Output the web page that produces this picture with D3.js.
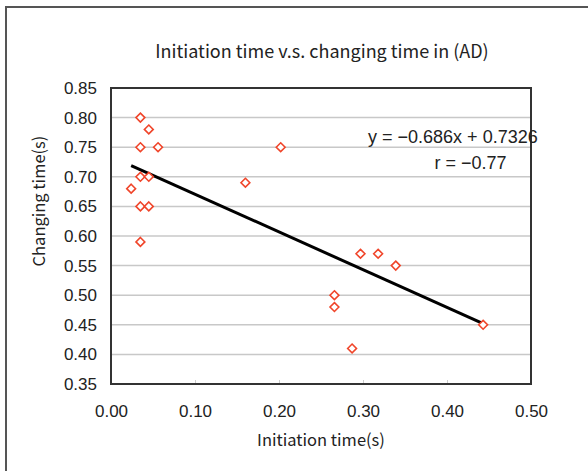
<!DOCTYPE html>
<html>
<head>
<meta charset="utf-8">
<script src="https://cdn.jsdelivr.net/npm/d3@7"></script>
<style>
  body { margin: 0; background: #fff; }
  svg { display: block; }
</style>
</head>
<body>
<div class="chart"></div>
<script>
// initiation time (s) and changing time (s)
var initTime = [0.035, 0.045, 0.035, 0.056, 0.202, 0.035, 0.045, 0.024, 0.160, 0.035,
                0.045, 0.035, 0.297, 0.318, 0.339, 0.266, 0.266, 0.287, 0.443];
var changeTime = [0.80, 0.78, 0.75, 0.75, 0.75, 0.70, 0.70, 0.68, 0.69, 0.65,
                  0.65, 0.59, 0.57, 0.57, 0.55, 0.50, 0.48, 0.41, 0.45];
// trend line end points as drawn
var trendX = [0.024, 0.443];
var trendY = [0.719, 0.452];
var xTicks = [0, 0.1, 0.2, 0.3, 0.4, 0.5];
var yTicks = [0.35, 0.40, 0.45, 0.50, 0.55, 0.60, 0.65, 0.70, 0.75, 0.80, 0.85];

var W = 588, H = 471;
var margin = { top: 88, right: 57, bottom: 87, left: 111 },
    width = W - margin.left - margin.right,
    height = H - margin.top - margin.bottom;

var svg = d3.select(".chart")
    .append("svg")
    .attr("width", W)
    .attr("height", H);

// outer chart frame (runs off right/bottom edge)
svg.append("rect")
    .attr("x", 6).attr("y", 7)
    .attr("width", W + 10).attr("height", H + 10)
    .attr("fill", "none")
    .attr("stroke", "#555")
    .attr("stroke-width", 2);

var g = svg.append("g")
    .attr("transform", "translate(" + margin.left + "," + margin.top + ")");

var x = d3.scaleLinear().domain([0, 0.5]).range([0, width]);
var y = d3.scaleLinear().domain([0.35, 0.85]).range([height, 0]);

var sans = "Liberation Sans, Arial, sans-serif";
var jp = "Noto Sans CJK JP, sans-serif";

// grid lines
g.selectAll("line.grid")
    .data(yTicks.slice(1, -1))
    .enter()
    .append("line")
    .attr("class", "grid")
    .attr("x1", 0).attr("x2", width)
    .attr("y1", function (d) { return y(d); })
    .attr("y2", function (d) { return y(d); })
    .attr("stroke", "#c8c8c8")
    .attr("stroke-width", 1.5);

// x axis
var xAxis = g.append("g")
    .attr("transform", "translate(0," + height + ")")
    .call(d3.axisBottom(x).tickValues(xTicks).tickFormat(d3.format(".2f"))
        .tickSizeInner(-4).tickSizeOuter(0).tickPadding(21));
xAxis.select(".domain").remove();
xAxis.selectAll("line").attr("stroke", "#ccc");
xAxis.selectAll("text")
    .attr("font-family", sans)
    .attr("font-size", 17)
    .attr("fill", "#222");

// y axis
var yAxis = g.append("g")
    .call(d3.axisLeft(y).tickValues(yTicks).tickFormat(d3.format(".2f"))
        .tickSize(0).tickPadding(14));
yAxis.select(".domain").remove();
yAxis.selectAll("text")
    .attr("font-family", sans)
    .attr("font-size", 17)
    .attr("fill", "#222");

// plot area border
g.append("rect")
    .attr("width", width).attr("height", height)
    .attr("fill", "none")
    .attr("stroke", "#333")
    .attr("stroke-width", 2);

// trend line
g.append("line")
    .attr("x1", x(trendX[0])).attr("y1", y(trendY[0]))
    .attr("x2", x(trendX[1])).attr("y2", y(trendY[1]))
    .attr("stroke", "#000")
    .attr("stroke-width", 3);

// markers
var diamond = d3.symbol().type(d3.symbolDiamond2).size(50);
g.selectAll("path.pt")
    .data(initTime)
    .enter()
    .append("path")
    .attr("class", "pt")
    .attr("d", diamond)
    .attr("transform", function (d, i) {
        return "translate(" + x(d) + "," + y(changeTime[i]) + ")";
    })
    .attr("fill", "#fff")
    .attr("stroke", "#f0452a")
    .attr("stroke-width", 1.6);

// equation text
g.append("text")
    .attr("x", x(0.407)).attr("y", y(0.757))
    .attr("text-anchor", "middle")
    .attr("font-family", sans)
    .attr("font-size", 18)
    .attr("fill", "#222")
    .text("y = −0.686x + 0.7326");
g.append("text")
    .attr("x", x(0.428)).attr("y", y(0.713))
    .attr("text-anchor", "middle")
    .attr("font-family", sans)
    .attr("font-size", 18)
    .attr("fill", "#222")
    .text("r = −0.77");

// titles
svg.append("text")
    .attr("x", 322).attr("y", 58)
    .attr("text-anchor", "middle")
    .attr("font-family", jp)
    .attr("font-size", 18)
    .attr("fill", "#222")
    .text("Initiation time v.s. changing time in (AD)");

svg.append("text")
    .attr("x", margin.left + width / 2).attr("y", 446)
    .attr("text-anchor", "middle")
    .attr("font-family", jp)
    .attr("font-size", 16.5)
    .attr("fill", "#222")
    .text("Initiation time(s)");

svg.append("text")
    .attr("transform", "translate(45," + (margin.top + height / 2 - 35) + ") rotate(-90)")
    .attr("text-anchor", "middle")
    .attr("font-family", jp)
    .attr("font-size", 16.5)
    .attr("fill", "#222")
    .text("Changing time(s)");
</script>
</body>
</html>
